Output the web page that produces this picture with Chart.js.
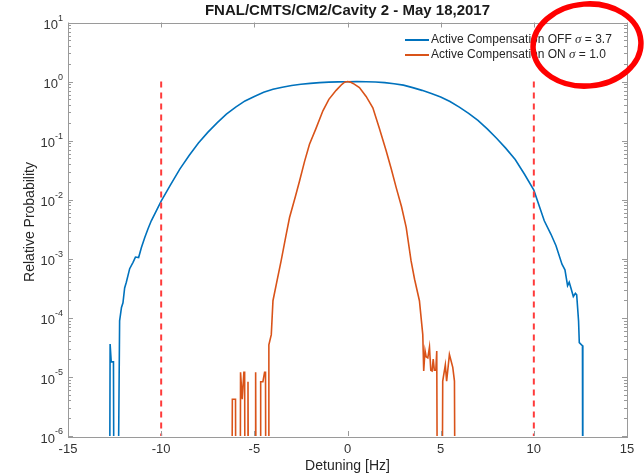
<!DOCTYPE html>
<html><head><meta charset="utf-8">
<script src="https://cdn.jsdelivr.net/npm/chart.js@4/dist/chart.umd.min.js"></script>
<style>html,body{margin:0;padding:0;background:#fff}#wrap{width:644px;height:475px}</style>
</head><body><div id="wrap"><canvas id="c" width="644" height="475"></canvas></div>
<script>
const chartTitle = 'FNAL/CMTS/CM2/Cavity 2 - May 18,2017';
const xAxisLabel = 'Detuning [Hz]';
const yAxisLabel = 'Relative Probability';
const xTicks = [-15, -10, -5, 0, 5, 10, 15];
const yTickExponents = [-6, -5, -4, -3, -2, -1, 0, 1];
const seriesLabels = ['Active Compensation OFF', 'Active Compensation ON'];
const sigmaValues = ['3.7', '1.0'];

// Active Compensation OFF (0 = empty bin)
const offX = [-12.78, -12.74, -12.68, -12.56, -12.52, -12.36, -12.23, -12.13, -12.05, -11.96,
  -11.87, -11.69, -11.51, -11.38, -11.21, -11.06, -10.88, -10.71, -10.53, -10.0,
  -9.5, -9.0, -8.5, -8.0, -7.5, -7.0, -6.5, -6.0, -5.5, -5.0,
  -4.5, -4.0, -3.5, -3.0, -2.5, -2.0, -1.5, -1.0, -0.5, 0.0,
  0.5, 1.0, 1.5, 2.0, 2.5, 3.0, 3.5, 4.0, 4.5, 5.0,
  5.5, 6.0, 6.5, 7.0, 7.5, 8.0, 8.5, 9.0, 9.5, 10.0,
  10.56, 10.92, 11.19, 11.51, 11.67, 11.81, 11.90, 11.99, 12.12, 12.23,
  12.30, 12.40, 12.44, 12.56, 12.61, 12.63];
const offY = [0, 3.6e-5, 1.8e-5, 1.8e-5, 0, 0, 8.9e-5, 1.5e-4, 1.8e-4, 3.2e-4,
  4.0e-4, 6.8e-4, 8.7e-4, 1.07e-3, 1.05e-3, 1.55e-3, 2.3e-3, 3.2e-3, 4.4e-3, 9.5e-3,
  0.0178, 0.033, 0.056, 0.091, 0.138, 0.20, 0.28, 0.37, 0.47, 0.56,
  0.66, 0.74, 0.80, 0.86, 0.90, 0.933, 0.96, 0.977, 0.99, 0.995,
  1.0, 0.993, 0.982, 0.96, 0.92, 0.87, 0.79, 0.71, 0.63, 0.55,
  0.46, 0.37, 0.29, 0.22, 0.158, 0.11, 0.074, 0.048, 0.027, 0.0145,
  4.4e-3, 2.6e-3, 1.66e-3, 8.1e-4, 6.5e-4, 3.5e-4, 4.0e-4, 3.2e-4, 2.3e-4, 2.6e-4,
  2.45e-4, 8.9e-5, 3.8e-5, 3.5e-5, 3.4e-5, 0];

// Active Compensation ON (0 = empty bin)
const onX = [-6.22, -6.18, -6.01, -5.98, -5.77, -5.74, -5.65, -5.56, -5.52, -5.49,
  -5.37, -5.34, -5.30, -4.96, -4.93, -4.89, -4.69, -4.66, -4.54, -4.45,
  -4.40, -4.37, -4.26, -4.22, -4.09, -4.00, -3.80, -3.56, -3.30, -3.11,
  -2.80, -2.57, -2.30, -2.04, -1.70, -1.32, -1.00, -0.61, -0.30, -0.15,
  0.00, 0.15, 0.30, 0.64, 1.00, 1.36, 1.70, 2.07, 2.35, 2.61,
  2.90, 3.15, 3.41, 3.60, 3.86, 4.04, 4.09, 4.16, 4.22, 4.31,
  4.40, 4.47, 4.54, 4.60, 4.66, 4.74, 4.79, 4.84, 5.06, 5.11,
  5.25, 5.32, 5.47, 5.65, 5.74, 5.79];
const onY = [0, 4.2e-6, 4.2e-6, 0, 0, 1.2e-5, 4.2e-6, 1.2e-5, 1.2e-5, 0,
  0, 8.3e-6, 0, 0, 1.2e-5, 0, 0, 8.3e-6, 8.3e-6, 1.2e-5,
  1.2e-5, 0, 0, 3.5e-5, 5.2e-5, 1.95e-4, 4.0e-4, 9.3e-4, 2.5e-3, 5.0e-3,
  0.0112, 0.021, 0.045, 0.087, 0.158, 0.32, 0.50, 0.71, 0.90, 0.975,
  1.0, 0.98, 0.93, 0.79, 0.56, 0.36, 0.166, 0.068, 0.033, 0.0162,
  7.6e-3, 3.4e-3, 9.3e-4, 4.5e-4, 1.95e-4, 5.2e-5, 1.26e-5, 2.8e-5, 2.2e-5, 2.1e-5,
  3.2e-5, 1.3e-5, 1.26e-5, 2.0e-5, 1.3e-5, 1.3e-5, 2.75e-5, 0, 0, 8.5e-6,
  1.6e-5, 8.5e-6, 2.4e-5, 1.45e-5, 8.5e-6, 0];

// dashed limit lines at +/-10 Hz
const limitX = [-10, 10];
const limitY = [1, 1e-6];

const BELOW_AXIS = 1e-9; // empty bins drop below the axis floor (log scale)
const pts = (xs, ys) => xs.map((x, i) => ({x: x, y: ys[i] > 0 ? ys[i] : BELOW_AXIS}));

const BLUE = '#0072BD', ORANGE = '#D95319', RED = '#FF3B3B';
const AXIS_COL = '#9a9a9a', TEXT_COL = '#333333';
const SANS = '"Liberation Sans", Arial, Helvetica, sans-serif';

const datasets = [
  {label: seriesLabels[0], data: pts(offX, offY), borderColor: BLUE, borderWidth: 1.6, order: 3},
  {label: seriesLabels[1], data: pts(onX, onY), borderColor: ORANGE, borderWidth: 1.6, order: 2}
];
limitX.forEach(lx => datasets.push({
  label: 'limit', data: limitY.map(v => ({x: lx, y: v})), borderColor: RED,
  borderWidth: 2, borderDash: [6, 5], order: 1
}));
datasets.forEach(d => { d.pointRadius = 0; d.tension = 0; d.fill = false; d.clip = 0; });

const decorPlugin = {
  id: 'decor',
  afterDraw(chart) {
    const ctx = chart.ctx, a = chart.chartArea;
    const xs = chart.scales.x, ys = chart.scales.y;
    ctx.save();
    // box
    ctx.strokeStyle = AXIS_COL; ctx.lineWidth = 1;
    ctx.strokeRect(Math.round(a.left) + 0.5, Math.round(a.top) + 0.5,
      Math.round(a.right - a.left), Math.round(a.bottom - a.top));
    // x ticks (bottom & top, inward)
    ctx.beginPath();
    xTicks.forEach(t => {
      const px = Math.round(xs.getPixelForValue(t)) + 0.5;
      ctx.moveTo(px, a.bottom); ctx.lineTo(px, a.bottom - 5);
      ctx.moveTo(px, a.top); ctx.lineTo(px, a.top + 5);
    });
    // y ticks (left & right, inward), major + minor
    yTickExponents.forEach(e => {
      for (let k = 1; k <= 9; k++) {
        if (e === yTickExponents[yTickExponents.length - 1] && k > 1) break;
        const v = k * Math.pow(10, e);
        const py = Math.round(ys.getPixelForValue(v)) + 0.5;
        const len = k === 1 ? 5 : 3;
        ctx.moveTo(a.left, py); ctx.lineTo(a.left + len, py);
        ctx.moveTo(a.right, py); ctx.lineTo(a.right - len, py);
      }
    });
    ctx.stroke();
    // y tick labels 10^n
    ctx.fillStyle = TEXT_COL;
    yTickExponents.forEach(e => {
      const py = ys.getPixelForValue(Math.pow(10, e));
      const exp = String(e);
      ctx.font = '9px ' + SANS;
      const ew = ctx.measureText(exp).width;
      ctx.textAlign = 'right'; ctx.textBaseline = 'middle';
      ctx.fillText(exp, a.left - 5, py - 4);
      ctx.font = '13px ' + SANS;
      ctx.fillText('10', a.left - 5 - ew, py + 3);
    });
    // y axis title
    ctx.save();
    ctx.translate(30, 222);
    ctx.rotate(-Math.PI / 2);
    ctx.font = '14px ' + SANS;
    ctx.textAlign = 'center'; ctx.textBaseline = 'middle';
    ctx.fillStyle = '#262626';
    ctx.fillText(yAxisLabel, 0, 0);
    ctx.restore();
    // legend
    const colors = [BLUE, ORANGE];
    seriesLabels.forEach((lab, i) => {
      const y = 40 + i * 15;
      ctx.strokeStyle = colors[i]; ctx.lineWidth = 2;
      ctx.beginPath(); ctx.moveTo(405, y); ctx.lineTo(429, y); ctx.stroke();
      ctx.fillStyle = '#262626'; ctx.textAlign = 'left'; ctx.textBaseline = 'middle';
      let x = 431;
      ctx.font = '12px ' + SANS;
      const t1 = lab + ' ';
      ctx.fillText(t1, x, y); x += ctx.measureText(t1).width;
      ctx.font = 'italic 13px "Liberation Serif", "Times New Roman", serif';
      ctx.fillText('\u03C3', x, y); x += ctx.measureText('\u03C3').width;
      ctx.font = '12px ' + SANS;
      ctx.fillText(' = ' + sigmaValues[i], x, y);
    });
    // red highlight ellipse
    ctx.strokeStyle = '#FF0000'; ctx.lineWidth = 5.5;
    ctx.beginPath();
    ctx.ellipse(587, 45, 54, 41, -0.08, 0, Math.PI * 2);
    ctx.stroke();
    ctx.restore();
  }
};

new Chart(document.getElementById('c'), {
  type: 'line',
  data: {datasets: datasets},
  options: {
    responsive: false, animation: false, devicePixelRatio: 1,
    layout: {padding: {left: 0, right: 17, top: 0, bottom: 0}},
    plugins: {
      legend: {display: false},
      tooltip: {enabled: false},
      title: {
        display: true, text: chartTitle, fullSize: false, color: '#1a1a1a',
        font: {family: SANS, size: 15, weight: 'bold'},
        padding: {top: 2, bottom: 2.5}
      }
    },
    scales: {
      x: {
        type: 'linear', min: -15, max: 15,
        afterBuildTicks: s => { s.ticks = xTicks.map(v => ({value: v})); },
        ticks: {color: TEXT_COL, font: {family: SANS, size: 13}, padding: 6, maxRotation: 0},
        grid: {display: false, drawTicks: false},
        border: {display: false},
        title: {display: true, text: xAxisLabel, color: '#262626',
          font: {family: SANS, size: 14}, padding: {top: 0, bottom: 0}},
        afterFit: s => { s.height = 39; }
      },
      y: {
        type: 'logarithmic', min: 1e-6, max: 10,
        ticks: {display: false},
        grid: {display: false, drawTicks: false},
        border: {display: false},
        afterFit: s => { s.width = 68; }
      }
    }
  },
  plugins: [decorPlugin]
});
</script>
</body></html>
